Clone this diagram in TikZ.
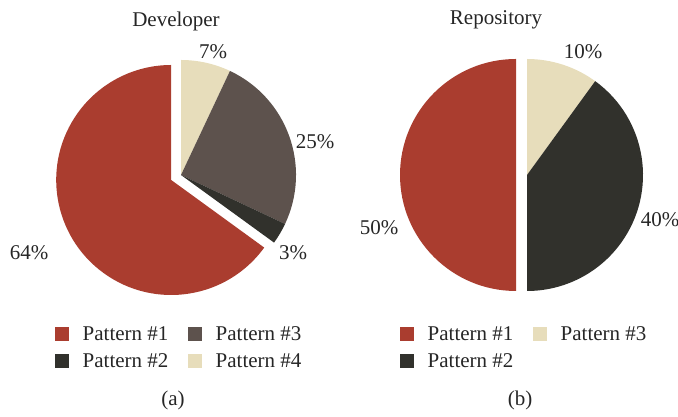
\documentclass[tikz,border=0pt]{standalone}
\usepackage{fontspec}
\setmainfont{Liberation Serif}
\usepackage{xcolor}
\definecolor{pat1}{HTML}{AA3D2F}
\definecolor{pat2}{HTML}{31312C}
\definecolor{pat3}{HTML}{5D524D}
\definecolor{pat4}{HTML}{E7DDBB}
\usetikzlibrary{positioning}

\begin{document}
\begin{tikzpicture}[x=1pt,y=1pt,
    lab/.style={font=\fontsize{21}{25}\selectfont, text=black!85, inner sep=0pt},
    key/.style={minimum size=14pt, inner sep=0pt}]
                \useasboundingbox (0,0) rectangle (678,417);
                \foreach \a/\b/\c in {90/64.8/pat4, 64.8/-25.2/pat3, -25.2/-36/pat2}
                \fill[\c] (181,242) -- ++(\a:115pt) arc (\a:\b:115pt) -- cycle;
                \fill[pat1] (171.2,237) -- ++(-36:115pt) arc (-36:-270:115pt) -- cycle;
                \foreach \a/\b/\c in {90/54/pat4, 54/-90/pat2}
                \fill[\c] (527,242) -- ++(\a:116pt) arc (\a:\b:116pt) -- cycle;
                \fill[pat1] (516,242) -- ++(90:116pt) arc (90:270:116pt) -- cycle;
                \node[lab] (dev) at (176,396) {Developer};
                \node[lab] (repo) at (496,397) {Repository};
                \node[lab] (d7) at (213,365) {7\%};
                \node[lab] (d25) at (315,275) {25\%};
                \node[lab] (d3) at (293,164) {3\%};
                \node[lab] (d64) at (29,164) {64\%};
                \node[lab] (r10) at (583,365) {10\%};
                \node[lab] (r40) at (660,197) {40\%};
                \node[lab] (r50) at (379,189) {50\%};
                \foreach \n/\x/\y/\c/\t in {a1/62/83/pat1/1, a2/62/56/pat2/2, a3/195/83/pat3/3, a4/195/56/pat4/4,
                                          b1/407/83/pat1/1, b2/407/56/pat2/2, b3/540/83/pat4/3}
                {
                \node[key, fill=\c] (k\n) at (\x,\y) {};
                \node[lab, anchor=base west] (t\n) at (\x+20.5,\y-7) {Pattern \#\t};
                }
                \node[lab] (capa) at (173,17) {(a)};
                \node[lab] (capb) at (520,17) {(b)};
            \end{tikzpicture}
\end{document}
